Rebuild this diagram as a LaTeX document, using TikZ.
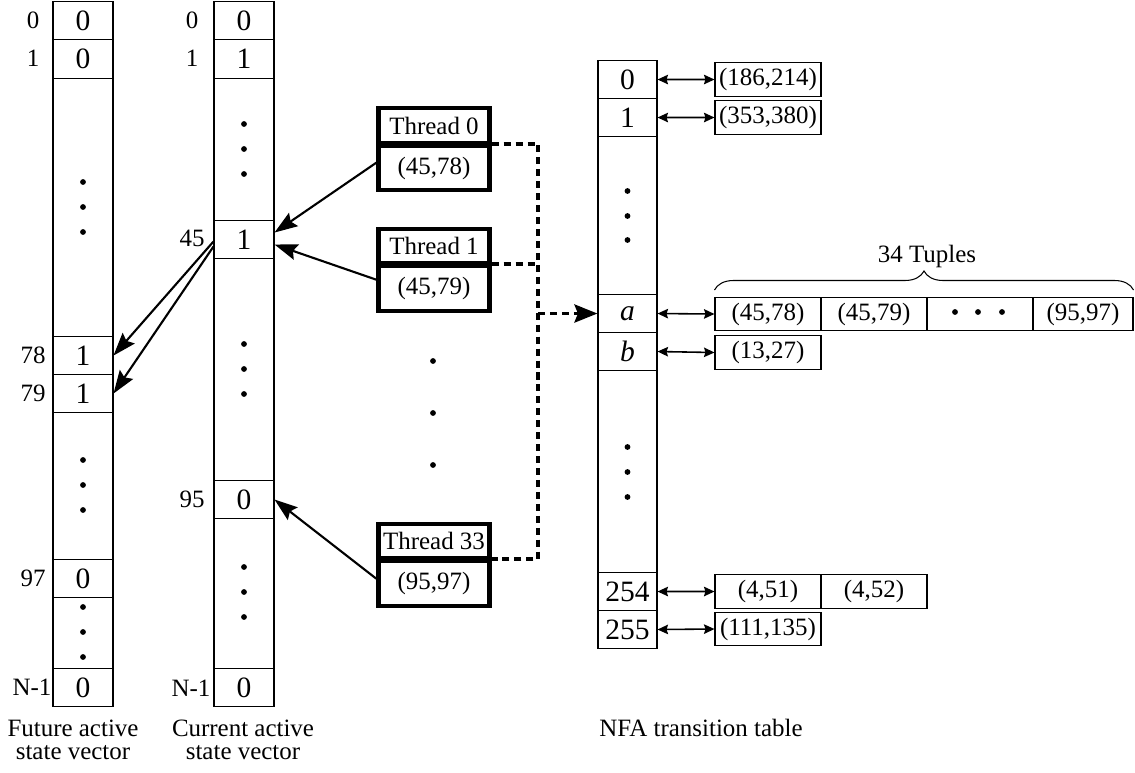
\documentclass[tikz,border=0pt]{standalone}
\usepackage{fontspec}
\setmainfont{Liberation Serif}
\usetikzlibrary{arrows.meta,decorations.pathreplacing}
\newcommand{\cellsize}{\fontsize{16.8}{18}\selectfont}
\newcommand{\txtsize}{\fontsize{14.2}{12.8}\selectfont}
\tikzset{
    vcell/.style={draw, line width=0.6pt, inner sep=0pt, anchor=north, minimum width=1.2cm, minimum height=0.76cm, font=\cellsize},
    tcell/.style={vcell, minimum width=1.18cm},
    thbox/.style={draw, line width=2.5pt, inner sep=0pt, anchor=north, minimum width=2.22cm, font=\txtsize},
    tuple/.style={draw, line width=0.6pt, inner sep=0pt, anchor=north, minimum width=2.12cm, minimum height=0.68cm, font=\txtsize},
    idx/.style={font=\txtsize, inner sep=0pt},
    ptr/.style={-{Stealth[length=0.46cm, width=0.32cm, inset=0.07cm]}, line width=1.2pt},
    lnk/.style={{Stealth[length=0.21cm, width=0.19cm, inset=0.03cm]}-{Stealth[length=0.21cm, width=0.19cm, inset=0.03cm]}, line width=0.9pt},
    dashline/.style={line width=2pt, dash pattern=on 4pt off 2.8pt}
}

\begin{document}
\begin{tikzpicture}[x=0.02cm, y=-0.02cm]
    \useasboundingbox (0,0) rectangle (1135,773);
    % future active state vector
    \foreach \n/\y/\h/\v in {fa0/1/38/0, fa1/39/39/0, fag1/78/258/{}, fa78/336/38/1, fa79/374/38/1, fag2/412/147/{}, fa97/559/38/0, fag3/597/71/{}, faN/668/38/0}{
        \node[vcell, minimum height=\h*0.02cm] (\n) at (83,\y) {\v};
    }
    % current active state vector
    \foreach \n/\y/\h/\v in {ca0/1/38/0, ca1/39/39/1, cag1/78/142/{}, ca45/220/38/1, cag2/258/222/{}, ca95/480/38/0, cag3/518/150/{}, caN/668/38/0}{
        \node[vcell, minimum height=\h*0.02cm] (\n) at (244,\y) {\v};
    }
    % NFA transition table
    \foreach \n/\y/\h/\v in {t0/60/38/0, t1/98/38/1, tg1/136/158/{}, ta/294/38/\textit{a}, tb/332/38/\textit{b}, tg2/370/202/{}, t254/572/38/254, t255/610/38/255}{
        \node[tcell, minimum height=\h*0.02cm] (\n) at (627.5,\y) {\v};
    }
    \foreach \n/\x/\y/\t in {fl0/33/20/0, fl1/33/58/1, fl78/33/355/78, fl79/33/393/79, fl97/33/578/97, flN/32/687/N-1, cl0/192/20/0, cl1/192/58/1, cl45/192/238/45, cl95/192/499/95, clN/191/688/N-1}{
        \node[idx] (\n) at (\x,\y) {\t};
    }
    \foreach \x/\y in {83/182, 83/207, 83/232, 83/460, 83/485, 83/510, 83/607, 83/632, 83/657, 244/124, 244/149, 244/174, 244/344, 244/369, 244/394, 244/567, 244/592, 244/617, 433/361, 433/413, 433/465, 627.5/191, 627.5/216, 627.5/240, 627.5/447, 627.5/472, 627.5/497, 955/312, 978/312, 1002/312}{
        \fill (\x,\y) circle[radius=0.058cm];
    }
    % threads
    \node[thbox, minimum height=0.7cm] (th0l) at (434,106) {Thread 0};
    \node[thbox, minimum height=0.88cm] (th0v) at (434,144) {(45,78)};
    \node[thbox, minimum height=0.68cm] (th1l) at (434,227) {Thread 1};
    \node[thbox, minimum height=0.9cm] (th1v) at (434,264) {(45,79)};
    \node[thbox, minimum height=0.68cm] (th33l) at (434,522) {Thread 33};
    \node[thbox, minimum height=0.9cm] (th33v) at (434,559) {(95,97)};
    % tuples
    \node[tuple] (tp0) at (768,62) {(186,214)};
    \node[tuple] (tp1) at (768,100) {(353,380)};
    \node[tuple, minimum height=0.66cm] (tpa1) at (768,297) {(45,78)};
    \node[tuple, minimum height=0.66cm] (tpa2) at (874,297) {(45,79)};
    \node[tuple, minimum height=0.66cm] (tpa3) at (980,297) {};
    \node[tuple, minimum height=0.66cm, minimum width=2cm] (tpa4) at (1083,297) {(95,97)};
    \node[tuple] (tpb) at (768,335) {(13,27)};
    \node[tuple] (tp254a) at (768,574) {(4,51)};
    \node[tuple] (tp254b) at (874,574) {(4,52)};
    \node[tuple, minimum height=0.66cm] (tp255) at (768,612) {(111,135)};
    \draw[line width=0.6pt, decorate, decoration={brace, amplitude=0.38cm}] ([yshift=0.14cm]tpa1.north west) -- ([yshift=0.14cm]tpa4.north east);
    \node[idx] (tcount) at (927,257) {34 Tuples};
    \foreach \a/\b in {t0/tp0, t1/tp1, ta/tpa1, tb/tpb, t254/tp254a, t255/tp255}{
        \draw[lnk] (\a.east) -- (\b.west);
    }
    % pointers
    \draw[ptr] ([yshift=0.11cm]th0v.west) -- ([yshift=0.14cm]ca45.east);
    \draw[ptr] ([yshift=0.18cm]th1v.west) -- ([yshift=-0.1cm]ca45.east);
    \draw[ptr] ([yshift=0.1cm]th33v.west) -- (ca95.east);
    \draw[ptr] ([yshift=-0.04cm]ca45.west) -- (fa78.east);
    \draw[ptr] ([yshift=-0.14cm]ca45.west) -- (fa79.east);
    \coordinate (busT) at (538,144);
    \coordinate (busB) at (538,559);
    \draw[dashline] (th0v.north east) -- (busT) -- (busB) -- (th33v.north east);
    \draw[dashline] (th1v.north east) -- (th1v.north east -| busT);
    \draw[dashline, -{Stealth[length=0.46cm, width=0.36cm, inset=0.07cm]}] (busT |- ta.west) -- (ta.west);
    % captions
    \node[idx, align=center] (futcap) at (73,740) {Future active\\state vector};
    \node[idx, align=center] (curcap) at (243,740) {Current active\\state vector};
    \node[idx] (nfacap) at (701,728) {NFA transition table};
\end{tikzpicture}
\end{document}
